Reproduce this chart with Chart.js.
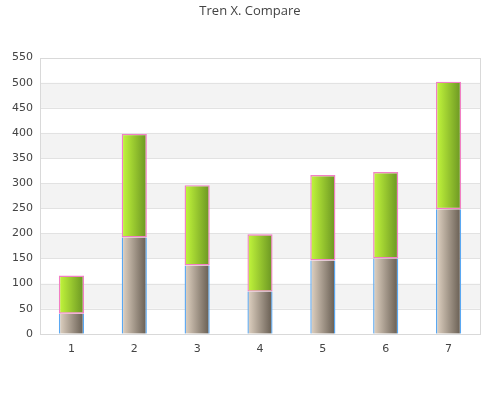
<!DOCTYPE html>
<html><head><meta charset="utf-8">
<script src="https://cdn.jsdelivr.net/npm/chart.js@4"></script>
<style>html,body{margin:0;padding:0;background:#fff}#w{width:500px;height:400px}</style>
</head><body><div id="w"><canvas id="c"></canvas></div>
<script>
const categories = ['1','2','3','4','5','6','7'];
const baseValues = [40,192,136,84,146,150,248];
const topValues = [76,206,160,114,170,172,254];
const yMin = 0, yMax = 550, yStep = 50;

function barGrad(ctx, c1, c2) {
  const chart = ctx.chart;
  const xs = chart.scales.x;
  if (!xs || !chart.chartArea) return c1;
  const cx = xs.getPixelForValue(ctx.dataIndex);
  const w = xs.width / categories.length * 0.4;
  const g = chart.ctx.createLinearGradient(cx - w/2, 0, cx + w/2, 0);
  g.addColorStop(0, c1);
  g.addColorStop(1, c2);
  return g;
}

const bands = {
  id: 'bands',
  beforeDatasetsDraw(chart) {
    const {ctx, chartArea: a, scales: {y}} = chart;
    ctx.save();
    const ticks = y.ticks;
    for (let i = 0; i < ticks.length - 1; i++) {
      const v = ticks[i].value;
      if ((v / yStep) % 2 === 1) {
        const y1 = y.getPixelForValue(v), y2 = y.getPixelForValue(ticks[i+1].value);
        ctx.fillStyle = '#f3f3f3';
        ctx.fillRect(a.left, y2, a.right - a.left, y1 - y2);
      }
    }
    ctx.strokeStyle = '#e2e2e2';
    ctx.lineWidth = 1;
    for (const t of ticks) {
      const py = Math.round(y.getPixelForValue(t.value)) + 0.5;
      ctx.beginPath(); ctx.moveTo(a.left, py); ctx.lineTo(a.right, py); ctx.stroke();
    }
    ctx.strokeStyle = '#d9d9d9';
    ctx.strokeRect(Math.round(a.left)+0.5, Math.round(a.top)+0.5, Math.round(a.right-a.left), Math.round(a.bottom-a.top));
    ctx.restore();
  }
};

new Chart(document.getElementById('c'), {
  type: 'bar',
  data: {
    labels: categories,
    datasets: [
      {
        label: 'A',
        data: baseValues,
        backgroundColor: c => barGrad(c, '#e2d4c4', '#655b50'),
        borderColor: '#5aa8f2',
        borderWidth: { left: 1.4, right: 1.4, top: 0, bottom: 0 },
        borderSkipped: false
      },
      {
        label: 'B',
        data: topValues,
        backgroundColor: c => barGrad(c, '#c4f83c', '#6a9522'),
        borderColor: '#f27fc4',
        borderWidth: 1.4,
        borderSkipped: false
      }
    ]
  },
  plugins: [bands],
  options: {
    responsive: true,
    maintainAspectRatio: false,
    animation: false,
    layout: { padding: { left: 0, right: 0, top: 0, bottom: 35 } },
    datasets: { bar: { categoryPercentage: 0.8, barPercentage: 0.5 } },
    plugins: {
      legend: { display: false },
      tooltip: { enabled: false },
      title: {
        display: true, text: 'Tren X. Compare',
        color: '#444', font: { family: 'Open Sans', size: 13, weight: 'normal' },
        padding: { top: 3, bottom: 39 }
      }
    },
    scales: {
      x: {
        stacked: true,
        grid: { display: false, drawTicks: false },
        border: { display: false },
        ticks: { color: '#444', font: { family: 'DejaVu Sans', size: 11 }, padding: 9 }
      },
      y: {
        stacked: true,
        min: yMin, max: yMax,
        afterFit(s) { s.width = 40; },
        grid: { display: false, drawTicks: false },
        border: { display: false },
        ticks: { stepSize: yStep, color: '#444', font: { family: 'DejaVu Sans', size: 11 }, padding: 7 }
      },
      yR: {
        position: 'right',
        display: true,
        afterFit(s) { s.width = 20; },
        grid: { display: false, drawTicks: false },
        border: { display: false },
        ticks: { display: false }
      }
    }
  }
});
</script></body></html>
